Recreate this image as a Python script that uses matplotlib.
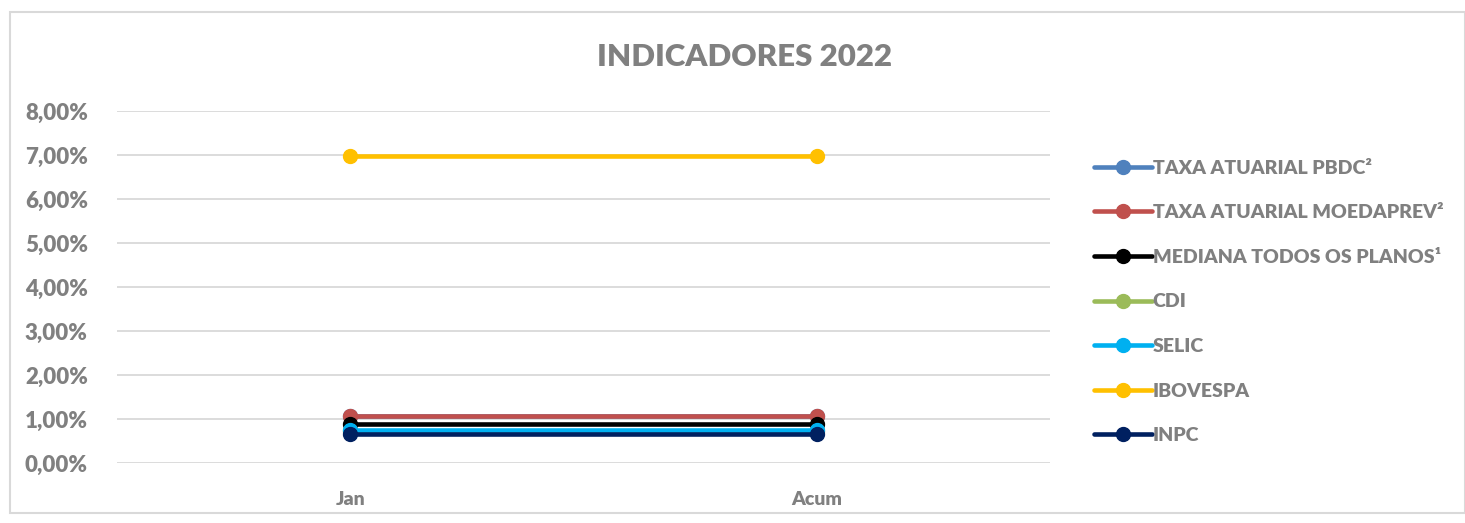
import matplotlib.pyplot as plt
from matplotlib.patches import Rectangle
from matplotlib.ticker import FuncFormatter

plt.rcParams['font.family'] = ['Lato', 'DejaVu Sans']

categories = ['Jan', 'Acum']
series_names = ['TAXA ATUARIAL PBDC²', 'TAXA ATUARIAL MOEDAPREV²',
                'MEDIANA TODOS OS PLANOS¹', 'CDI', 'SELIC', 'IBOVESPA', 'INPC']
pbdc = [1.06, 1.06]
moedaprev = [1.06, 1.06]
mediana = [0.88, 0.88]
cdi = [0.73, 0.73]
selic = [0.76, 0.76]
ibovespa = [6.98, 6.98]
inpc = [0.67, 0.67]
colors = ['#4f81bd', '#c0504d', '#000000', '#9bbb59', '#00b0f0', '#ffc000', '#002060']

gray = '#808080'
wt = 'heavy'
fig = plt.figure(figsize=(14.65, 5.23), dpi=100)
fig.patches.append(Rectangle((10 / 1465, 0.02), 1 - 10 / 1465, 0.957,
                             transform=fig.transFigure, fill=False,
                             edgecolor='#d9d9d9', linewidth=1.5))

ax = fig.add_axes([117 / 1465, 1 - 463 / 523, 933 / 1465, 352 / 523])
x = range(len(categories))
for name, vals, c in zip(series_names, [pbdc, moedaprev, mediana, cdi, selic, ibovespa, inpc], colors):
    ax.plot(x, vals, color=c, linewidth=3.3, marker='o', markersize=10,
            label=name, solid_capstyle='round')

ax.set_xlim(-0.5, 1.5)
ax.set_ylim(0, 8)
ax.set_yticks(range(0, 9))
ax.yaxis.set_major_formatter(FuncFormatter(lambda v, p: f'{v:.2f}%'.replace('.', ',')))
ax.set_xticks(list(x))
ax.set_xticklabels(categories)
ax.grid(axis='y', color='#d9d9d9', linewidth=1.3)
ax.set_axisbelow(True)
for s in ax.spines.values():
    s.set_visible(False)
ax.tick_params(length=0, colors=gray, labelsize=16)
ax.tick_params(axis='x', pad=20, labelsize=14)
ax.tick_params(axis='y', pad=21)
for lab in ax.get_xticklabels() + ax.get_yticklabels():
    lab.set_fontweight(wt)

fig.text(745 / 1465, 1 - 57 / 523, 'INDICADORES 2022', ha='center', va='center',
         fontsize=22.5, fontweight=wt, color=gray)

leg = fig.legend(loc='upper left', bbox_to_anchor=(1076 / 1465, 1 - 142 / 523),
                 frameon=False, handlelength=3.0, handletextpad=0.05,
                 labelspacing=1.42, prop={'size': 14, 'weight': wt})
for t in leg.get_texts():
    t.set_color(gray)

fig.savefig('out.png', dpi=100)
